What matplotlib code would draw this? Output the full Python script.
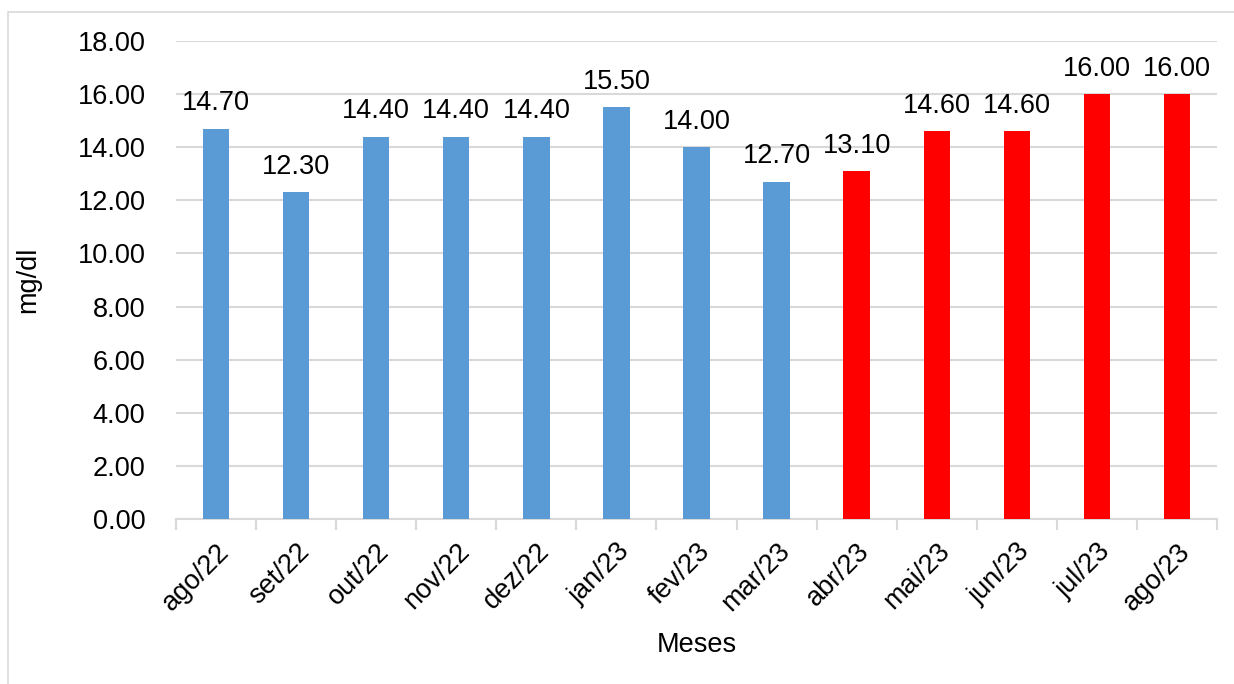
import matplotlib
matplotlib.use("Agg")
import matplotlib.pyplot as plt
from matplotlib.patches import Rectangle
from matplotlib.ticker import FixedLocator, MultipleLocator, FuncFormatter

plt.rcParams['font.family'] = ['Liberation Sans', 'DejaVu Sans']

meses = ["ago/22", "set/22", "out/22", "nov/22", "dez/22", "jan/23", "fev/23",
         "mar/23", "abr/23", "mai/23", "jun/23", "jul/23", "ago/23"]
valores = [14.70, 12.30, 14.40, 14.40, 14.40, 15.50, 14.00,
           12.70, 13.10, 14.60, 14.60, 16.00, 16.00]
cores = ["#5B9BD5"] * 8 + ["#FF0000"] * 5

FS = 19.5
W, H = 1234, 684
fig = plt.figure(figsize=(W / 100, H / 100), dpi=100)
fig.patches.append(Rectangle((8 / W, -0.1), 1.2, 1 - 12 / H + 0.1, transform=fig.transFigure,
                             fill=False, edgecolor="#D9D9D9", linewidth=1.2))
ax = fig.add_axes([176 / W, 1 - 519 / H, (1217 - 176) / W, (519 - 41) / H])

x = list(range(len(meses)))
ax.bar(x, valores, width=0.33, color=cores, zorder=3)
for xi, v in zip(x, valores):
    ax.annotate(f"{v:.2f}", (xi, v), xytext=(0, 9), textcoords="offset points",
                ha="center", va="bottom", fontsize=FS)

ax.set_xlim(-0.5, len(meses) - 0.5)
ax.set_ylim(0, 18)
ax.yaxis.set_major_locator(MultipleLocator(2))
ax.yaxis.set_major_formatter(FuncFormatter(lambda v, p: f"{v:.2f}"))
ax.grid(axis="y", color="#D9D9D9", linewidth=1.5, zorder=0)
ax.set_axisbelow(True)

for s in ["top", "right", "left"]:
    ax.spines[s].set_visible(False)
ax.spines["bottom"].set_color("#D9D9D9")
ax.spines["bottom"].set_linewidth(1.5)

ax.set_xticks(x)
ax.set_xticklabels(meses, rotation=45, ha="right", rotation_mode="anchor", fontsize=FS)
ax.tick_params(axis="x", length=0, pad=14)
ax.xaxis.set_minor_locator(FixedLocator([i - 0.5 for i in range(len(meses) + 1)]))
ax.tick_params(axis="x", which="minor", length=8, width=1.5, color="#D9D9D9")
ax.tick_params(axis="y", length=0, labelsize=FS, pad=22)

ax.set_xlabel("Meses", fontsize=FS, labelpad=11)
ax.set_ylabel("mg/dl", fontsize=FS, labelpad=26)

fig.savefig("out.png", dpi=100)
